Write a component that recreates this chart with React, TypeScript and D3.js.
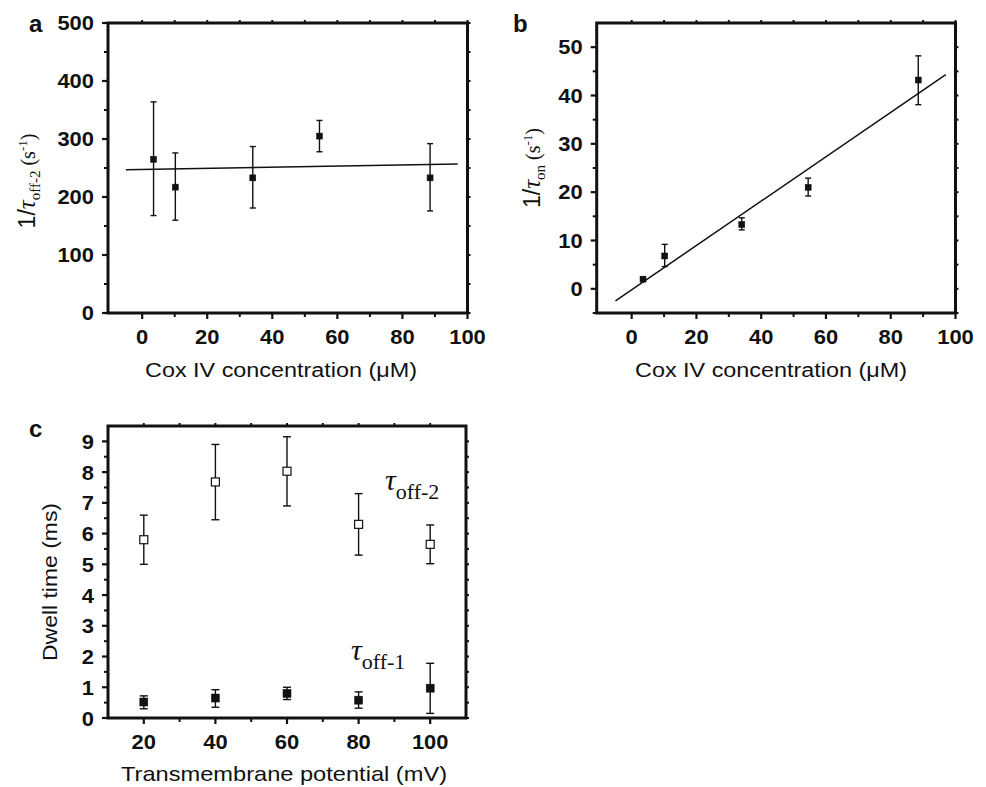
import React from "react";
import * as d3 from "d3";

// panel a / b: Cox IV concentration (uM)
const cox = [3.5, 10.2, 34, 54.5, 88.5];
const rateOff2 = [265, 217, 233, 305, 233];
const rateOff2Lo = [168, 160, 181, 278, 176];
const rateOff2Hi = [364, 276, 287, 332, 292];
const fitOff2 = [[-5, 247], [97, 257]];
const rateOn = [2, 6.8, 13.3, 21, 43.2];
const rateOnLo = [1.6, 4.6, 12.2, 19.2, 38.1];
const rateOnHi = [2.4, 9.2, 14.7, 22.9, 48.2];
const fitOn = [[-5, -2.5], [97, 44.3]];

// panel c: transmembrane potential (mV)
const potential = [20, 40, 60, 80, 100];
const dwellOff2 = [5.8, 7.68, 8.03, 6.3, 5.65];
const dwellOff2Lo = [5.0, 6.45, 6.9, 5.3, 5.02];
const dwellOff2Hi = [6.6, 8.9, 9.15, 7.3, 6.28];
const dwellOff1 = [0.52, 0.65, 0.8, 0.58, 0.97];
const dwellOff1Lo = [0.3, 0.35, 0.6, 0.32, 0.15];
const dwellOff1Hi = [0.72, 0.92, 1.0, 0.85, 1.78];

const coxTicks = [0, 20, 40, 60, 80, 100];
const coxMinor = [10, 30, 50, 70, 90];
const offTicks = [0, 100, 200, 300, 400, 500];
const offMinor = [50, 150, 250, 350, 450];
const onTicks = [0, 10, 20, 30, 40, 50];
const onMinor = [-5, 5, 15, 25, 35, 45];
const mvTicks = [20, 40, 60, 80, 100];
const mvMinor = [30, 50, 70, 90];
const dwellTicks = [0, 1, 2, 3, 4, 5, 6, 7, 8, 9];
const dwellMinor = [0.5, 1.5, 2.5, 3.5, 4.5, 5.5, 6.5, 7.5, 8.5];

const sans = "'Liberation Sans', Arial, Helvetica, sans-serif";
const serif = "'Liberation Serif', 'Times New Roman', serif";

type Sc = d3.ScaleLinear<number, number>;

// bold tick label, slightly widened like the original figure
function Tick({ x, y, t, anchor, dy, fs }: { x: number; y: number; t: number; anchor: string; dy?: string; fs: number }) {
  const s = String(t);
  return (
    <text x={x} y={y} dy={dy} textAnchor={anchor} stroke="none" fill="#111" fontFamily={sans} fontWeight="bold" fontSize={fs}
      textLength={s.length * 12.2} lengthAdjust="spacingAndGlyphs">{s}</text>
  );
}

function Frame({ x, y, xt, xm, yt, ym, fs }: { x: Sc; y: Sc; xt: number[]; xm: number[]; yt: number[]; ym: number[]; fs: number }) {
  const [x0, x1] = x.range();
  const [y0, y1] = y.range();
  return (
    <g stroke="#111" fill="none">
      {xt.map((t) => (
        <g key={"xt" + t}>
          <line x1={x(t)} x2={x(t)} y1={y0} y2={y0 + 6} strokeWidth={2.2} />
          <line x1={x(t)} x2={x(t)} y1={y1} y2={y1 - 3} strokeWidth={2} />
          <Tick x={x(t)} y={y0 + 31} t={t} anchor="middle" fs={fs} />
        </g>
      ))}
      {xm.map((t) => (
        <g key={"xm" + t}>
          <line x1={x(t)} x2={x(t)} y1={y0} y2={y0 + 4} strokeWidth={2} />
          <line x1={x(t)} x2={x(t)} y1={y1} y2={y1 - 3} strokeWidth={2} />
        </g>
      ))}
      {yt.map((t) => (
        <g key={"yt" + t}>
          <line x1={x0} x2={x0 - 6} y1={y(t)} y2={y(t)} strokeWidth={2.2} />
          <line x1={x1} x2={x1 + 3} y1={y(t)} y2={y(t)} strokeWidth={2} />
          <Tick x={x0 - 14} y={y(t)} dy="0.36em" t={t} anchor="end" fs={fs} />
        </g>
      ))}
      {ym.map((t) => (
        <g key={"ym" + t}>
          <line x1={x0} x2={x0 - 4} y1={y(t)} y2={y(t)} strokeWidth={2} />
          <line x1={x1} x2={x1 + 3} y1={y(t)} y2={y(t)} strokeWidth={2} />
        </g>
      ))}
      <rect x={x0} y={y1} width={x1 - x0} height={y0 - y1} strokeWidth={3} />
    </g>
  );
}

function Points({ x, y, xs, ys, lo, hi, size, cap, open }: { x: Sc; y: Sc; xs: number[]; ys: number[]; lo: number[]; hi: number[]; size: number; cap: number; open?: boolean }) {
  return (
    <g>
      {xs.map((v, i) => (
        <g key={i} stroke="#111" strokeWidth={1.4}>
          <line x1={x(v)} x2={x(v)} y1={y(lo[i])} y2={y(hi[i])} />
          <line x1={x(v) - cap} x2={x(v) + cap} y1={y(lo[i])} y2={y(lo[i])} />
          <line x1={x(v) - cap} x2={x(v) + cap} y1={y(hi[i])} y2={y(hi[i])} />
          <rect x={x(v) - size / 2} y={y(ys[i]) - size / 2} width={size} height={size} fill={open ? "#fff" : "#111"} strokeWidth={open ? 1.2 : 0.5} />
        </g>
      ))}
    </g>
  );
}

export default function App() {
  const xa = d3.scaleLinear().domain([-10.5, 100]).range([108, 467.5]);
  const ya = d3.scaleLinear().domain([0, 500]).range([313, 23]);
  const xb = d3.scaleLinear().domain([-10.8, 100]).range([596.7, 955.5]);
  const yb = d3.scaleLinear().domain([-5, 55]).range([313, 23]);
  const xc = d3.scaleLinear().domain([10, 110]).range([108, 466]);
  const yc = d3.scaleLinear().domain([0, 9.5]).range([718, 426]);
  const fitLine = (x: Sc, y: Sc) => d3.line<number[]>().x((d) => x(d[0])).y((d) => y(d[1]));

  return (
    <svg width={986} height={787} style={{ position: "absolute", left: 0, top: 0, background: "#fff" }}>
      {/* panel a */}
      <Frame x={xa} y={ya} xt={coxTicks} xm={coxMinor} yt={offTicks} ym={offMinor} fs={20} />
      <path d={fitLine(xa, ya)(fitOff2) || ""} stroke="#111" strokeWidth={1.5} fill="none" />
      <Points x={xa} y={ya} xs={cox} ys={rateOff2} lo={rateOff2Lo} hi={rateOff2Hi} size={6} cap={3} />
      <text x={29} y={32} fontFamily={sans} fontWeight="bold" fontSize={24} fill="#111">a</text>
      <text x={281} y={377} textAnchor="middle" fontFamily={sans} fontSize={20} fill="#111" textLength={272} lengthAdjust="spacingAndGlyphs">Cox IV concentration (μM)</text>
      <text transform="translate(35,181) rotate(-90)" textAnchor="middle" fill="#111">
        <tspan fontFamily={sans} fontSize={23}>1/</tspan>
        <tspan fontFamily={serif} fontStyle="italic" fontSize={25}>τ</tspan>
        <tspan fontFamily={serif} fontSize={15} dy={5}>off-2</tspan>
        <tspan fontFamily={serif} fontSize={20} dy={-5}> (s</tspan>
        <tspan fontFamily={serif} fontSize={13} dy={-8}>-1</tspan>
        <tspan fontFamily={serif} fontSize={20} dy={8}>)</tspan>
      </text>

      {/* panel b */}
      <Frame x={xb} y={yb} xt={coxTicks} xm={coxMinor} yt={onTicks} ym={onMinor} fs={20} />
      <path d={fitLine(xb, yb)(fitOn) || ""} stroke="#111" strokeWidth={1.5} fill="none" />
      <Points x={xb} y={yb} xs={cox} ys={rateOn} lo={rateOnLo} hi={rateOnHi} size={6} cap={3} />
      <text x={513} y={32} fontFamily={sans} fontWeight="bold" fontSize={24} fill="#111">b</text>
      <text x={771} y={377} textAnchor="middle" fontFamily={sans} fontSize={20} fill="#111" textLength={272} lengthAdjust="spacingAndGlyphs">Cox IV concentration (μM)</text>
      <text transform="translate(540,168) rotate(-90)" textAnchor="middle" fill="#111">
        <tspan fontFamily={sans} fontSize={23}>1/</tspan>
        <tspan fontFamily={serif} fontStyle="italic" fontSize={25}>τ</tspan>
        <tspan fontFamily={serif} fontSize={15} dy={5}>on</tspan>
        <tspan fontFamily={serif} fontSize={20} dy={-5}> (s</tspan>
        <tspan fontFamily={serif} fontSize={13} dy={-8}>-1</tspan>
        <tspan fontFamily={serif} fontSize={20} dy={8}>)</tspan>
      </text>

      {/* panel c */}
      <Frame x={xc} y={yc} xt={mvTicks} xm={mvMinor} yt={dwellTicks} ym={dwellMinor} fs={21} />
      <Points x={xc} y={yc} xs={potential} ys={dwellOff2} lo={dwellOff2Lo} hi={dwellOff2Hi} size={8} cap={4} open />
      <Points x={xc} y={yc} xs={potential} ys={dwellOff1} lo={dwellOff1Lo} hi={dwellOff1Hi} size={8} cap={4} />
      <text x={29} y={437} fontFamily={sans} fontWeight="bold" fontSize={24} fill="#111">c</text>
      <text x={284} y={781} textAnchor="middle" fontFamily={sans} fontSize={21} fill="#111" textLength={326} lengthAdjust="spacingAndGlyphs">Transmembrane potential (mV)</text>
      <text transform="translate(57,582) rotate(-90)" textAnchor="middle" fontFamily={sans} fontSize={21} fill="#111" textLength={158} lengthAdjust="spacingAndGlyphs">Dwell time (ms)</text>
      <text x={385} y={490} fill="#111">
        <tspan fontFamily={serif} fontStyle="italic" fontSize={30}>τ</tspan>
        <tspan fontFamily={serif} fontSize={22} dy={9}>off-2</tspan>
      </text>
      <text x={351} y={660} fill="#111">
        <tspan fontFamily={serif} fontStyle="italic" fontSize={30}>τ</tspan>
        <tspan fontFamily={serif} fontSize={22} dy={9}>off-1</tspan>
      </text>
    </svg>
  );
}
